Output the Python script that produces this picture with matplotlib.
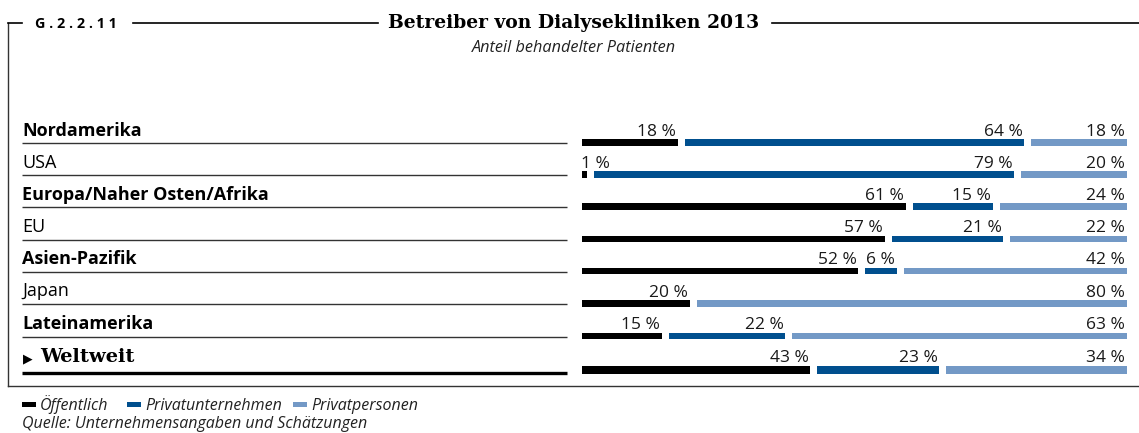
import matplotlib
matplotlib.use("Agg")
import matplotlib.pyplot as plt
from matplotlib.patches import Rectangle

# ---- data ----
regions = ["Nordamerika", "USA", "Europa/Naher Osten/Afrika", "EU",
           "Asien-Pazifik", "Japan", "Lateinamerika", "Weltweit"]
bold_rows = [True, False, True, False, True, False, True, True]
oeffentlich = [18, 1, 61, 57, 52, 20, 15, 43]
privatunternehmen = [64, 79, 15, 21, 6, 0, 22, 23]
privatpersonen = [18, 20, 24, 22, 42, 80, 63, 34]
series_names = ["Öffentlich", "Privatunternehmen", "Privatpersonen"]
colors = ["#000000", "#004f8e", "#7399c6"]

title = "Betreiber von Dialysekliniken 2013"
subtitle = "Anteil behandelter Patienten"
fig_no = "G . 2 . 2 . 1 1"
source = "Quelle: Unternehmensangaben und Schätzungen"

# ---- layout ----
W, H = 1139, 433
fig = plt.figure(figsize=(W / 100, H / 100), dpi=100)
SANS = ["Open Sans", "DejaVu Sans"]
SERIF = ["DejaVu Serif"]

ov = fig.add_axes([0, 0, 1, 1])
ov.set_xlim(0, W)
ov.set_ylim(H, 0)
ov.axis("off")

bx0, bx1 = 582, 1127
bax = fig.add_axes([bx0 / W, 0, (bx1 - bx0) / W, 1])
bax.set_xlim(0, 100)
bax.set_ylim(H, 0)
bax.axis("off")

row_y = [142.5, 174.5, 206.5, 239, 271, 303.5, 336, 370]
gap = 7 / (bx1 - bx0) * 100
px_per_unit = (bx1 - bx0) / 100

for i, name in enumerate(regions):
    vals = [oeffentlich[i], privatunternehmen[i], privatpersonen[i]]
    n = sum(1 for v in vals if v > 0)
    avail = 100 - gap * (n - 1)
    left = 0
    h = 8 if i == len(regions) - 1 else 6.5
    for j, v in enumerate(vals):
        if v <= 0:
            continue
        w = v * avail / 100
        bax.barh(row_y[i], w, left=left, height=h, color=colors[j], linewidth=0)
        lab = f"{v} %"
        if w * px_per_unit < 25:
            bax.text(left - 0.15, row_y[i] - h / 2 - 3.5, lab, ha="left", va="baseline",
                     fontsize=12.5, family=SANS, color="#1a1a1a")
        else:
            bax.text(left + w - 0.3, row_y[i] - h / 2 - 3.5, lab, ha="right", va="baseline",
                     fontsize=12.5, family=SANS, color="#1a1a1a")
        left += w + gap

    if name == "Weltweit":
        ov.text(23, row_y[i] - 8, "▶", fontsize=9, family=["DejaVu Sans"],
                va="baseline", ha="left")
        ov.text(40, row_y[i] - 8, name, fontsize=14, family=SERIF, weight="bold",
                va="baseline", ha="left")
        ov.plot([22, 567], [row_y[i] + 3, row_y[i] + 3], color="#000000", lw=2.4,
                solid_capstyle="butt")
    else:
        ov.text(22, row_y[i] - 7, name, fontsize=13, family=SANS,
                weight="bold" if bold_rows[i] else "normal", va="baseline", ha="left",
                color="#000000")
        ov.plot([22, 567], [row_y[i] + 0.5, row_y[i] + 0.5], color="#333333", lw=1.0,
                solid_capstyle="butt")

fc = "#333333"
ov.plot([8, 8], [23, 386], color=fc, lw=1.0)
ov.plot([8, W], [386, 386], color=fc, lw=1.0)
ov.plot([8, 22], [23, 23], color="#000000", lw=1.2)
ov.plot([133, 378], [23, 23], color="#000000", lw=1.2)
ov.plot([772, W], [23, 23], color="#000000", lw=1.2)

ov.text(35, 27.5, fig_no, fontsize=10.3, family=SANS, weight="bold", va="baseline", ha="left")
ov.text(574, 28, title, fontsize=13.5, family=SERIF, weight="bold", va="baseline", ha="center")
ov.text(574, 52, subtitle, fontsize=11.7, family=SANS, style="italic", va="baseline",
        ha="center", color="#222222")

lx = [22, 127, 293]
for j, nm in enumerate(series_names):
    ov.add_patch(Rectangle((lx[j], 401.5), 14, 5, color=colors[j], lw=0))
    ov.text(lx[j] + 18, 409.5, nm, fontsize=11.5, family=SANS, style="italic",
            va="baseline", ha="left", color="#222222")
ov.text(22, 428, source, fontsize=11.5, family=SANS, style="italic", va="baseline",
        ha="left", color="#222222")

fig.savefig("out.png", dpi=100)
